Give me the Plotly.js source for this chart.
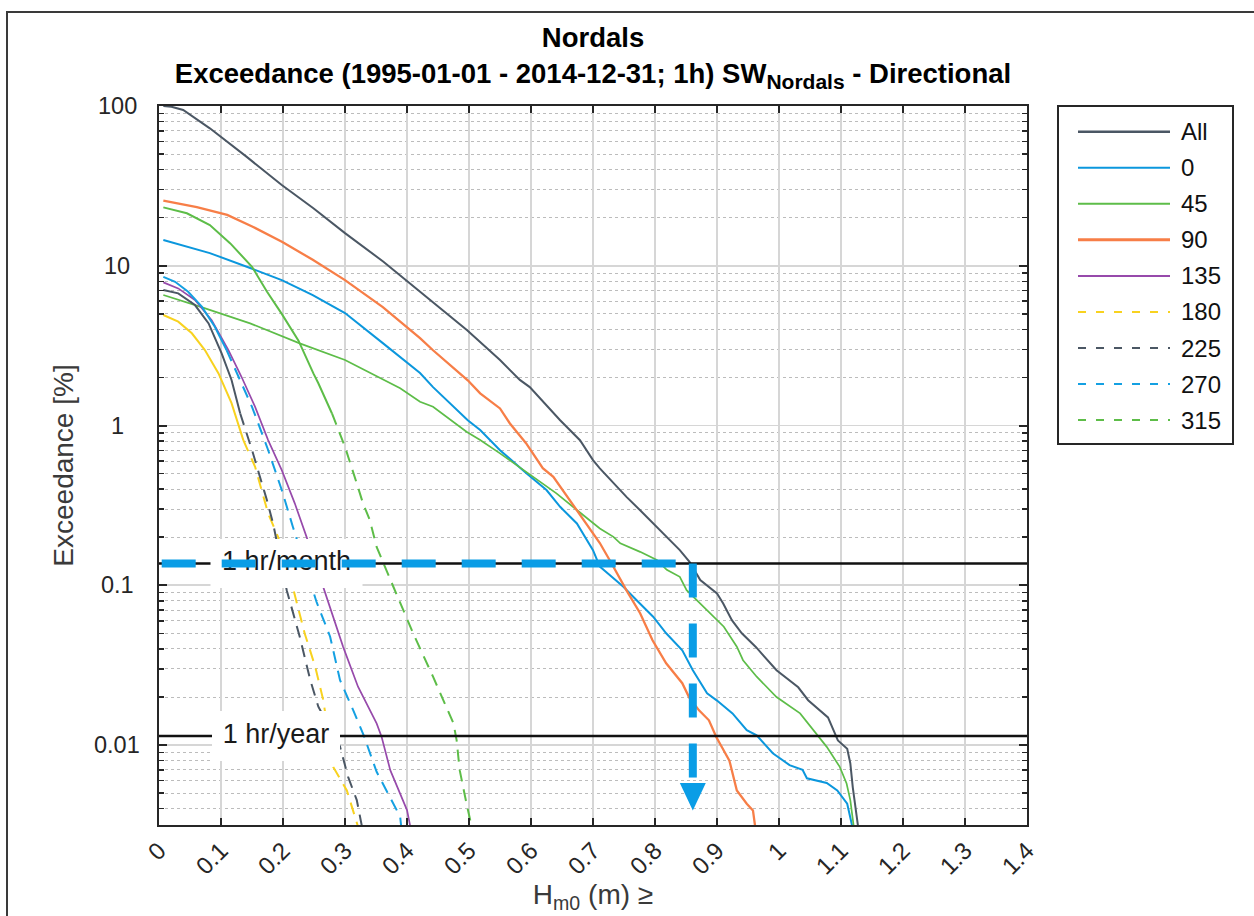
<!DOCTYPE html>
<html><head><meta charset="utf-8">
<script src="https://cdn.plot.ly/plotly-3.0.1.min.js"></script>
<style>html,body{margin:0;padding:0;background:#fff;} #chart{width:1254px;height:916px;}</style>
</head><body><div id="chart"></div>
<script>
// ---------------- DATA ----------------
const seriesNames = ['All','0','45','90','135','180','225','270','315'];

const hsAll = [0.007, 0.02, 0.039, 0.082, 0.141, 0.198, 0.249, 0.300, 0.362, 0.421, 0.497, 0.550, 0.582, 0.598, 0.647, 0.679, 0.700, 0.711, 0.743, 0.754, 0.776, 0.808, 0.840, 0.856, 0.873, 0.900, 0.910, 0.924, 0.940, 0.963, 0.996, 1.031, 1.047, 1.079, 1.090, 1.095, 1.110, 1.115, 1.119, 1.128];
const exAll = [100, 99, 94.4, 72.5, 48.2, 32, 22.9, 16.0, 10.6, 6.88, 3.95, 2.57, 1.93, 1.74, 1.08, 0.81, 0.608, 0.54, 0.394, 0.358, 0.295, 0.222, 0.166, 0.140, 0.108, 0.089, 0.077, 0.0605, 0.0501, 0.041, 0.0294, 0.023, 0.0191, 0.0149, 0.0119, 0.0107, 0.0095, 0.0077, 0.00544, 0.003];

const hs0 = [0.007, 0.082, 0.147, 0.198, 0.248, 0.300, 0.361, 0.421, 0.442, 0.498, 0.518, 0.550, 0.593, 0.625, 0.647, 0.674, 0.700, 0.711, 0.717, 0.749, 0.770, 0.797, 0.818, 0.844, 0.861, 0.884, 0.900, 0.925, 0.948, 0.964, 0.990, 1.017, 1.038, 1.045, 1.077, 1.094, 1.110, 1.119];
const ex0 = [14.5, 12.0, 9.68, 8.13, 6.56, 5.06, 3.28, 2.13, 1.74, 1.08, 0.938, 0.701, 0.502, 0.395, 0.310, 0.244, 0.166, 0.131, 0.125, 0.098, 0.0809, 0.0636, 0.0501, 0.0392, 0.0294, 0.0211, 0.0190, 0.0158, 0.0124, 0.0115, 0.0089, 0.0075, 0.0070, 0.0062, 0.0058, 0.0052, 0.0043, 0.003];

const hs45 = [0.007, 0.066, 0.147, 0.227, 0.300, 0.362, 0.389, 0.421, 0.442, 0.496, 0.518, 0.550, 0.604, 0.641, 0.674, 0.700, 0.711, 0.733, 0.744, 0.776, 0.803, 0.819, 0.840, 0.851, 0.889, 0.911, 0.932, 0.942, 0.964, 0.996, 1.034, 1.055, 1.077, 1.098, 1.109, 1.115, 1.121];
const ex45 = [6.56, 5.55, 4.36, 3.27, 2.57, 1.93, 1.71, 1.41, 1.31, 0.914, 0.811, 0.670, 0.478, 0.376, 0.296, 0.244, 0.227, 0.201, 0.183, 0.162, 0.144, 0.125, 0.113, 0.0933, 0.0667, 0.0551, 0.0413, 0.0340, 0.0268, 0.0200, 0.0158, 0.0124, 0.00975, 0.00731, 0.00575, 0.00453, 0.003];

const hs90 = [0.007, 0.061, 0.110, 0.152, 0.199, 0.248, 0.300, 0.361, 0.421, 0.442, 0.498, 0.518, 0.550, 0.566, 0.592, 0.619, 0.636, 0.674, 0.700, 0.711, 0.730, 0.754, 0.776, 0.796, 0.818, 0.844, 0.855, 0.871, 0.887, 0.899, 0.908, 0.920, 0.932, 0.948, 0.958, 0.962];
const ex90 = [25.6, 23.3, 20.8, 17.5, 14.1, 10.9, 8.13, 5.51, 3.52, 2.96, 1.92, 1.59, 1.28, 1.03, 0.776, 0.541, 0.478, 0.296, 0.211, 0.184, 0.137, 0.093, 0.0669, 0.0453, 0.0325, 0.0244, 0.0199, 0.0165, 0.0143, 0.0112, 0.0097, 0.0080, 0.0052, 0.0043, 0.0039, 0.003];

const hs135 = [0.007, 0.031, 0.058, 0.085, 0.112, 0.133, 0.155, 0.176, 0.198, 0.219, 0.238, 0.268, 0.297, 0.321, 0.351, 0.359, 0.373, 0.400, 0.406];
const ex135 = [7.87, 7.22, 6.11, 4.57, 2.97, 2.02, 1.31, 0.811, 0.526, 0.326, 0.201, 0.0912, 0.0412, 0.0232, 0.01368, 0.01127, 0.00697, 0.00392, 0.003];

const hs180 = [0.007, 0.031, 0.053, 0.074, 0.096, 0.117, 0.136, 0.155, 0.176, 0.192, 0.217, 0.235, 0.252, 0.265, 0.281, 0.303, 0.322];
const ex180 = [4.92, 4.47, 3.78, 2.97, 2.12, 1.38, 0.811, 0.552, 0.282, 0.201, 0.0933, 0.050, 0.0309, 0.0191, 0.0073, 0.0052, 0.003];

const hs225 = [0.007, 0.031, 0.058, 0.080, 0.101, 0.117, 0.131, 0.150, 0.166, 0.174, 0.184, 0.206, 0.227, 0.244, 0.257, 0.292, 0.305, 0.319, 0.328];
const ex225 = [7.05, 6.72, 5.68, 4.36, 2.83, 1.93, 1.19, 0.703, 0.434, 0.342, 0.244, 0.0933, 0.0477, 0.0255, 0.0174, 0.00977, 0.00633, 0.00453, 0.003];

const hs270 = [0.007, 0.026, 0.047, 0.069, 0.090, 0.109, 0.128, 0.150, 0.176, 0.198, 0.216, 0.254, 0.276, 0.292, 0.313, 0.330, 0.351, 0.389, 0.391];
const ex270 = [8.53, 7.94, 6.88, 5.55, 4.15, 2.97, 2.02, 1.31, 0.703, 0.395, 0.232, 0.0789, 0.0477, 0.0255, 0.0166, 0.01155, 0.00681, 0.00356, 0.003];

const hs315 = [0.007, 0.045, 0.082, 0.115, 0.150, 0.174, 0.198, 0.225, 0.249, 0.257, 0.279, 0.300, 0.319, 0.329, 0.340, 0.351, 0.378, 0.410, 0.442, 0.475, 0.480, 0.485, 0.496, 0.505];
const ex315 = [23.2, 21.3, 18.0, 13.8, 9.86, 6.9, 5.0, 3.4, 2.12, 1.84, 1.19, 0.736, 0.434, 0.326, 0.256, 0.174, 0.098, 0.050, 0.0268, 0.01368, 0.01075, 0.00697, 0.00431, 0.003];

// reference levels and design read-off
const levelNames = ['1 hr/month', '1 hr/year'];
const levelValues = [100 * 12 / 8766, 100 / 8766];   // % of time
const designHs = 0.861;                              // Hm0 read at 1 hr/month
const arrowStemEnd = 0.0062, arrowTop = 0.0058, arrowTip = 0.0039;

const xTickVals = [0,0.1,0.2,0.3,0.4,0.5,0.6,0.7,0.8,0.9,1,1.1,1.2,1.3,1.4];
const xTickText = ['0','0.1','0.2','0.3','0.4','0.5','0.6','0.7','0.8','0.9','1','1.1','1.2','1.3','1.4'];
const yTickVals = [0.01, 0.1, 1, 10, 100];
const yTickText = ['0.01','0.1','1','10','100'];

// ---------------- STYLE ----------------
const FONT = 'Liberation Sans, Arial, Helvetica, sans-serif';
const DASH = '12px,8px';
const LEGEND_DASH = '8px,10px';
const xs = [hsAll, hs0, hs45, hs90, hs135, hs180, hs225, hs270, hs315];
const ys = [exAll, ex0, ex45, ex90, ex135, ex180, ex225, ex270, ex315];
const sty = [
  {color:'#4b5764', width:2.0, dash:'solid'},
  {color:'#0b97dd', width:2.0, dash:'solid'},
  {color:'#5dbd48', width:1.7, dash:'solid'},
  {color:'#f77e47', width:2.3, dash:'solid'},
  {color:'#974aab', width:1.7, dash:'solid'},
  {color:'#f8d21f', width:2.0, dash:DASH, solidUntil:0.136},
  {color:'#4b5764', width:2.0, dash:DASH, solidUntil:0.131},
  {color:'#14a0e2', width:2.0, dash:DASH, solidUntil:0.109},
  {color:'#5dbd48', width:2.0, dash:DASH, solidUntil:0.279}
];
const BLUE = '#0a9de6';

const W = 1254, H = 916;
const M = {l:159, r:227, t:106, b:91};
const plotW = W - M.l - M.r, plotH = H - M.t - M.b;
const xRange = [0, 1.4], yRange = [-2.5, 2];
const pxToPaperX = px => (px - M.l) / plotW;
const pxToPaperY = py => (H - M.b - py) / plotH;
const dxPerPx = (xRange[1]-xRange[0]) / plotW;
const dLogPerPx = (yRange[1]-yRange[0]) / plotH;

// ---------------- TRACES ----------------
const traces = [];
seriesNames.forEach((name, i) => {
  const s = sty[i];
  if (s.solidUntil === undefined) {
    traces.push({x: xs[i], y: ys[i], type:'scatter', mode:'lines', name: name,
      line:{color:s.color, width:s.width}, showlegend:false, hoverinfo:'x+y+name'});
  } else {
    const xa=[], ya=[], xb=[], yb=[];
    xs[i].forEach((v, k) => {
      if (v <= s.solidUntil) { xa.push(v); ya.push(ys[i][k]); }
      if (v >= s.solidUntil) { xb.push(v); yb.push(ys[i][k]); }
    });
    traces.push({x: xa, y: ya, type:'scatter', mode:'lines', name: name, legendgroup:name,
      line:{color:s.color, width:s.width}, showlegend:false});
    traces.push({x: xb, y: yb, type:'scatter', mode:'lines', name: name, legendgroup:name,
      line:{color:s.color, width:s.width, dash:s.dash}, showlegend:false});
  }
});

// reference level lines
levelValues.forEach((v, i) => {
  traces.push({x: xRange, y: [v, v], type:'scatter', mode:'lines', name: levelNames[i],
    line:{color:'#111', width:2.6}, showlegend:false, hoverinfo:'skip'});
});

// white label boxes + labels (drawn over curves, under the design arrow)
const labelCenterPx = [286.5, 276];      // label centre, px from left
const labelHalfPx = [[76, 24.5], [64, 25]];
levelValues.forEach((v, i) => {
  const cx = (labelCenterPx[i] - M.l) * dxPerPx;
  const hw = labelHalfPx[i][0] * dxPerPx;
  const hh = labelHalfPx[i][1] * dLogPerPx;
  const lv = Math.log10(v);
  const y0 = Math.pow(10, lv - hh), y1 = Math.pow(10, lv + hh);
  traces.push({x:[cx-hw, cx+hw, cx+hw, cx-hw, cx-hw], y:[y0, y0, y1, y1, y0], type:'scatter',
    mode:'lines', fill:'toself', fillcolor:'#ffffff', line:{width:0, color:'rgba(0,0,0,0)'},
    showlegend:false, hoverinfo:'skip'});
  traces.push({x:[cx], y:[v], type:'scatter', mode:'text', text:[levelNames[i]],
    textposition:'middle center', textfont:{family:FONT, size:27, color:'#1a1a1a'},
    showlegend:false, hoverinfo:'skip'});
});

// design read-off arrow
const hStart = 2.7 * dxPerPx;
traces.push({x:[hStart, designHs], y:[levelValues[0], levelValues[0]], type:'scatter', mode:'lines',
  line:{color:BLUE, width:8, dash:'34px,26px'}, showlegend:false, hoverinfo:'skip'});
traces.push({x:[designHs, designHs], y:[levelValues[0], arrowStemEnd], type:'scatter', mode:'lines',
  line:{color:BLUE, width:8, dash:'34px,26px'}, showlegend:false, hoverinfo:'skip'});
const ahw = 13 * dxPerPx;
traces.push({x:[designHs-ahw, designHs+ahw, designHs, designHs-ahw], y:[arrowTop, arrowTop, arrowTip, arrowTop],
  type:'scatter', mode:'lines', fill:'toself', fillcolor:BLUE, line:{width:0, color:BLUE},
  showlegend:false, hoverinfo:'skip'});

// ---------------- LEGEND (drawn as shapes + text, MATLAB style) ----------------
const shapes = [];
const annotations = [];
// figure frame
shapes.push({type:'rect', xref:'paper', yref:'paper', x0:pxToPaperX(7), x1:pxToPaperX(1262),
  y0:pxToPaperY(935), y1:pxToPaperY(12), line:{color:'#3a3a3a', width:2}, fillcolor:'rgba(0,0,0,0)'});
// legend box
shapes.push({type:'rect', xref:'paper', yref:'paper', x0:pxToPaperX(1058), x1:pxToPaperX(1233),
  y0:pxToPaperY(444), y1:pxToPaperY(106), line:{color:'#262626', width:2}, fillcolor:'#ffffff'});
seriesNames.forEach((name, i) => {
  const s = sty[i];
  const yy = pxToPaperY(131.7 + i * 36.05);
  shapes.push({type:'line', xref:'paper', yref:'paper', x0:pxToPaperX(1078), x1:pxToPaperX(1170),
    y0:yy, y1:yy, line:{color:s.color, width: (i===0?2.6:(i===3?3:2)), dash:(s.dash==='solid'?'solid':LEGEND_DASH)}});
  annotations.push({xref:'paper', yref:'paper', x:pxToPaperX(1179), y:yy, xanchor:'left', yanchor:'middle',
    text:name, showarrow:false, font:{family:FONT, size:24, color:'#111'}});
});

// y tick labels (centred, as in the reference)
yTickVals.forEach((v, i) => {
  annotations.push({xref:'paper', yref:'y', x:pxToPaperX(117), y:Math.log10(v), xanchor:'center', yanchor:'middle',
    text:yTickText[i], showarrow:false, font:{family:FONT, size:23.5, color:'#262626'}});
});

const minorY = [];
[0.001, 0.01, 0.1, 1, 10].forEach(d => { for (let k = 2; k <= 9; k++) minorY.push(k * d); });

const layout = {
  width: W, height: H,
  margin: M,
  paper_bgcolor:'#ffffff', plot_bgcolor:'#ffffff',
  font:{family:FONT, color:'#262626'},
  showlegend:false,
  title:{text:'Nordals<br>Exceedance (1995-01-01 - 2014-12-31; 1h) SW<sub><span style="font-size:21px">Nordals</span></sub> - Directional',
    font:{family:FONT, size:27.5, color:'#000', weight:'bold'},
    x: pxToPaperX(593), xref:'paper', xanchor:'center', y: 1 - 47/H, yref:'container', yanchor:'top'},
  xaxis:{range:xRange, tickmode:'array', tickvals:xTickVals, ticktext:xTickText, tickangle:-45,
    ticks:'inside', ticklen:7, tickwidth:2, tickcolor:'#262626', mirror:'ticks',
    showline:true, linecolor:'#262626', linewidth:2, zeroline:false,
    showgrid:true, gridcolor:'#d6d6d6', gridwidth:1.8,
    tickfont:{family:FONT, size:24, color:'#262626'},
    title:{text:'H<sub>m0</sub> (m) ≥', font:{family:FONT, size:28, color:'#3a3a3a'}, standoff:0},
    automargin:false},
  yaxis:{type:'log', range:yRange, tickmode:'array', tickvals:yTickVals, showticklabels:false,
    ticks:'inside', ticklen:8, tickwidth:2, tickcolor:'#262626', mirror:'ticks',
    showline:true, linecolor:'#262626', linewidth:2, zeroline:false,
    showgrid:true, gridcolor:'#d6d6d6', gridwidth:1.8,
    minor:{tickmode:'array', tickvals:minorY, ticks:'inside', ticklen:5, tickwidth:1.5, tickcolor:'#262626',
      showgrid:true, gridcolor:'#bcbcbc', gridwidth:1, griddash:'dot'},
    title:{text:'Exceedance [%]', font:{family:FONT, size:28, color:'#3a3a3a'}, standoff:75},
    automargin:false},
  shapes: shapes,
  annotations: annotations
};

Plotly.newPlot('chart', traces, layout, {staticPlot:true, displayModeBar:false});
</script>
</body></html>
